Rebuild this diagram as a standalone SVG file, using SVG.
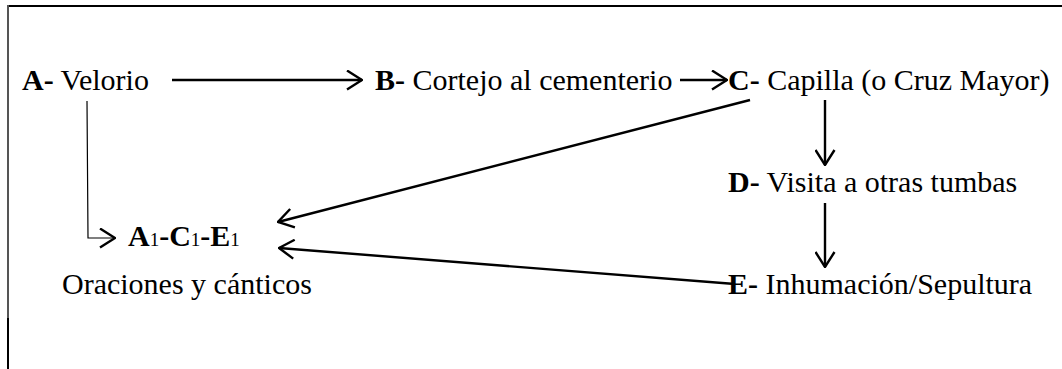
<svg xmlns="http://www.w3.org/2000/svg" width="1062" height="369" viewBox="0 0 1062 369">
<defs>
<style>
text{font-family:'Liberation Serif','DejaVu Serif','Noto Serif',serif;font-size:30px;fill:#000}
.b{font-weight:bold}
.sub{font-size:19px;font-weight:normal}
.c{fill:none;stroke:#000;stroke-width:2.4}
.thin{fill:none;stroke:#000;stroke-width:1.2}
</style>
<marker id="ah" viewBox="0 0 17 21" refX="16" refY="10.5" markerWidth="17" markerHeight="21" markerUnits="userSpaceOnUse" orient="auto">
<path d="M1,1 L16,10.5 L1,20" fill="none" stroke="#000" stroke-width="2.4"/>
</marker>
</defs>
<rect width="1062" height="369" fill="#fff"/>
<g id="frame">
<line x1="7" y1="6" x2="1062" y2="6" stroke="#000" stroke-width="2"/>
<line x1="8" y1="5" x2="8" y2="318" stroke="#555" stroke-width="2"/>
<line x1="8" y1="318" x2="8" y2="369" stroke="#000" stroke-width="2"/>
</g>
<g id="connectors">
<line class="c" x1="172" y1="80" x2="362" y2="80" marker-end="url(#ah)"/>
<line class="c" x1="680" y1="80" x2="727" y2="80" marker-end="url(#ah)"/>
<line class="c" x1="825" y1="100" x2="825" y2="165" marker-end="url(#ah)"/>
<line class="c" x1="825" y1="203" x2="825" y2="267" marker-end="url(#ah)"/>
<line class="c" x1="750" y1="100" x2="278" y2="222" marker-end="url(#ah)"/>
<line class="c" x1="735" y1="284" x2="279" y2="248" marker-end="url(#ah)"/>
<polyline class="thin" points="87,101 88,238 115,238" marker-end="url(#ah)"/>
</g>
<g id="nodeA"><text x="22" y="90"><tspan class="b">A-</tspan> Velorio</text></g>
<g id="nodeB"><text x="375" y="90"><tspan class="b">B-</tspan> Cortejo al cementerio</text></g>
<g id="nodeC"><text x="728" y="90"><tspan class="b">C-</tspan> Capilla (o Cruz Mayor)</text></g>
<g id="nodeD"><text x="728" y="192"><tspan class="b">D-</tspan> Visita a otras tumbas</text></g>
<g id="nodeE"><text x="728" y="294"><tspan class="b">E-</tspan> Inhumación/Sepultura</text></g>
<g id="nodeA1"><text x="128" y="246" class="b">A<tspan class="sub">1</tspan>-C<tspan class="sub">1</tspan>-E<tspan class="sub">1</tspan></text>
<text x="62" y="294">Oraciones y cánticos</text></g>
</svg>
